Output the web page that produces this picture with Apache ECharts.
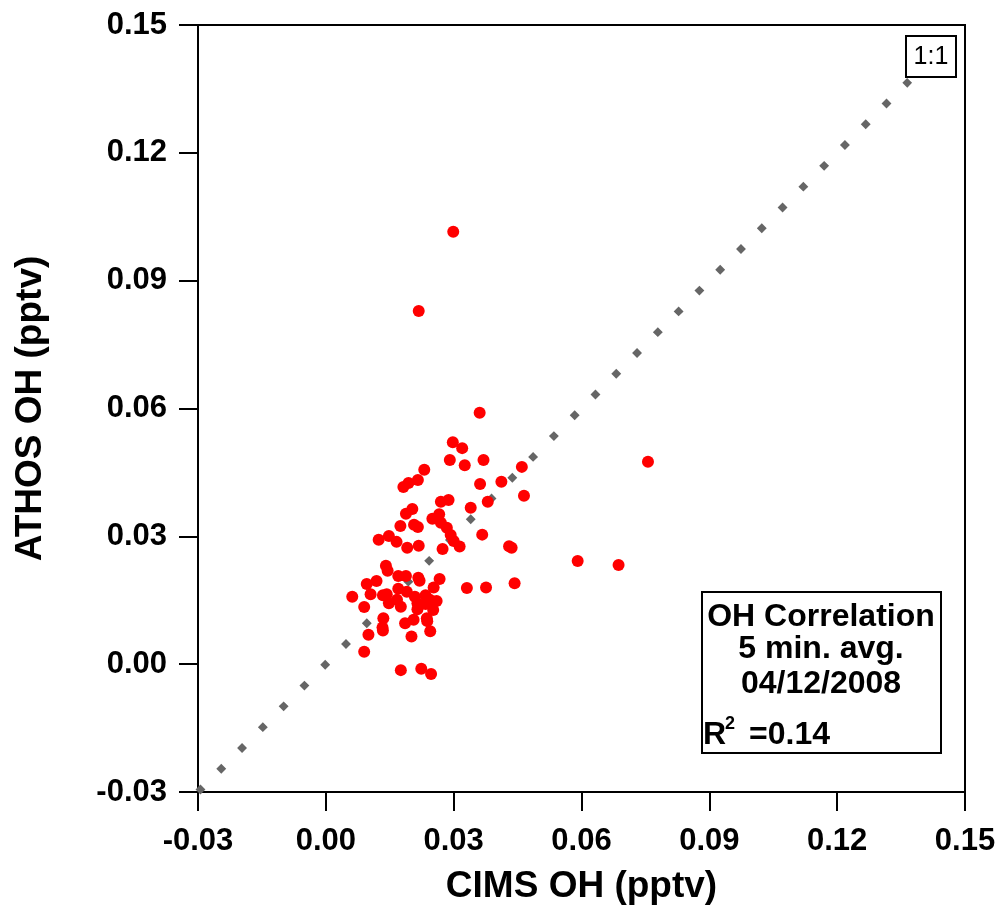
<!DOCTYPE html>
<html>
<head>
<meta charset="utf-8">
<script src="https://cdn.jsdelivr.net/npm/echarts@6/dist/echarts.min.js"></script>
<style>
  html, body { margin: 0; padding: 0; background: #fff; }
  #chart { width: 1004px; height: 913px; }
</style>
</head>
<body>
<div id="chart"></div>
<script>
// CIMS OH (x) vs ATHOS OH (y), pptv, 5 min. averages, 04/12/2008
var cimsOH = [
  0.0361, 0.0298, 0.0320, 0.0291, 0.0326, 0.0370, 0.0231, 0.0216, 0.0194, 0.0182,
  0.0362, 0.0412, 0.0460, 0.0465, 0.0380, 0.0340, 0.0270, 0.0288, 0.0203, 0.0188,
  0.0266, 0.0250, 0.0270, 0.0175, 0.0207, 0.0216, 0.0284, 0.0293, 0.0367, 0.0124,
  0.0148, 0.0166, 0.0191, 0.0218, 0.0274, 0.0300, 0.0314, 0.0430, 0.0436, 0.0141,
  0.0145, 0.0170, 0.0188, 0.0217, 0.0220, 0.0267, 0.0119, 0.0096, 0.0331, 0.0376,
  0.0443, 0.0062, 0.0105, 0.0134, 0.0143, 0.0170, 0.0190, 0.0253, 0.0090, 0.0148,
  0.0167, 0.0176, 0.0209, 0.0215, 0.0234, 0.0244, 0.0215, 0.0234, 0.0260, 0.0252,
  0.0135, 0.0133, 0.0134, 0.0186, 0.0206, 0.0237, 0.0238, 0.0201, 0.0245, 0.0100,
  0.0090, 0.0176, 0.0224, 0.0247, 0.0299, 0.0218, 0.0756, 0.0591, 0.0687
];
var athosOH = [
  0.0590, 0.0521, 0.0507, 0.0479, 0.0467, 0.0479, 0.0456, 0.0432, 0.0425, 0.0416,
  0.0423, 0.0428, 0.0463, 0.0395, 0.0381, 0.0367, 0.0381, 0.0385, 0.0364, 0.0353,
  0.0352, 0.0341, 0.0332, 0.0324, 0.0327, 0.0322, 0.0320, 0.0303, 0.0304, 0.0292,
  0.0301, 0.0287, 0.0273, 0.0278, 0.0270, 0.0289, 0.0276, 0.0277, 0.0273, 0.0231,
  0.0219, 0.0207, 0.0207, 0.0203, 0.0196, 0.0200, 0.0195, 0.0188, 0.0179, 0.0180,
  0.0190, 0.0158, 0.0164, 0.0162, 0.0164, 0.0177, 0.0170, 0.0180, 0.0134, 0.0143,
  0.0151, 0.0135, 0.0158, 0.0143, 0.0162, 0.0151, 0.0129, 0.0141, 0.0148, 0.0127,
  0.0108, 0.0086, 0.0079, 0.0096, 0.0104, 0.0108, 0.0101, 0.0065, 0.0077, 0.0069,
  0.0029, -0.0014, -0.0011, -0.0023, 0.1015, 0.0829, 0.0475, 0.0242, 0.0233
];
// 1:1 reference line
var oneToOne = [[-0.03, -0.03], [0.137, 0.137]];
var axisMin = -0.03, axisMax = 0.15, axisStep = 0.03;

var points = cimsOH.map(function (x, i) { return [x, athosOH[i]]; });

var font = '"Liberation Sans", Arial, sans-serif';
function fmt(v) { return Math.abs(v) < 1e-9 ? '0.00' : v.toFixed(2); }

var axisCommon = {
  type: 'value',
  min: axisMin,
  max: axisMax,
  interval: axisStep,
  splitLine: { show: false },
  axisLine: { show: true, onZero: false, lineStyle: { color: '#000', width: 2 } },
  axisTick: { show: true, inside: false, length: 19, lineStyle: { color: '#000', width: 2 } },
  nameLocation: 'middle',
  nameTextStyle: { fontFamily: font, fontWeight: 'bold', fontSize: 37, color: '#000' }
};

var chart = echarts.init(document.getElementById('chart'));
chart.setOption({
  animation: false,
  backgroundColor: '#fff',
  grid: {
    left: 198, right: 39, top: 25, bottom: 121,
    outerBoundsMode: 'none',
    show: true, borderColor: '#000', borderWidth: 2, backgroundColor: 'transparent'
  },
  xAxis: Object.assign({}, axisCommon, {
    name: 'CIMS OH (pptv)',
    nameGap: 76,
    axisLabel: { margin: 34, formatter: fmt, fontFamily: font, fontWeight: 'bold', fontSize: 31, color: '#000' }
  }),
  yAxis: Object.assign({}, axisCommon, {
    name: 'ATHOS OH (pptv)',
    nameGap: 149,
    nameRotate: 90,
    axisLabel: { margin: 31, formatter: fmt, fontFamily: font, fontWeight: 'bold', fontSize: 31, color: '#000' }
  }),
  series: [
    {
      type: 'line',
      data: oneToOne,
      symbol: 'none',
      silent: true,
      z: 1,
      lineStyle: { color: '#666', width: 7, type: [7, 22.4], cap: 'butt', opacity: 1 }
    },
    {
      type: 'scatter',
      data: points,
      symbol: 'circle',
      symbolSize: 12,
      z: 3,
      itemStyle: { color: '#ff0000', opacity: 1 }
    }
  ],
  graphic: [
    {
      type: 'group', z: 100,
      children: [
        { type: 'rect', shape: { x: 906, y: 36, width: 50, height: 41 },
          style: { fill: '#fff', stroke: '#000', lineWidth: 2 } },
        { type: 'text', x: 931, y: 57,
          style: { text: '1:1', font: '25px ' + font, fill: '#000', textAlign: 'center', textVerticalAlign: 'middle' } }
      ]
    },
    {
      type: 'group', z: 100,
      children: [
        { type: 'rect', shape: { x: 702, y: 592, width: 239, height: 161 },
          style: { fill: '#fff', stroke: '#000', lineWidth: 2 } },
        { type: 'text', x: 821, y: 617,
          style: { text: 'OH Correlation', font: 'bold 32px ' + font, fill: '#000', textAlign: 'center', textVerticalAlign: 'middle' } },
        { type: 'text', x: 821, y: 649,
          style: { text: '5 min. avg.', font: 'bold 32px ' + font, fill: '#000', textAlign: 'center', textVerticalAlign: 'middle' } },
        { type: 'text', x: 821, y: 684,
          style: { text: '04/12/2008', font: 'bold 32px ' + font, fill: '#000', textAlign: 'center', textVerticalAlign: 'middle' } },
        { type: 'text', x: 703, y: 735,
          style: { text: 'R', font: 'bold 32px ' + font, fill: '#000', textAlign: 'left', textVerticalAlign: 'middle' } },
        { type: 'text', x: 725, y: 724,
          style: { text: '2', font: 'bold 18px ' + font, fill: '#000', textAlign: 'left', textVerticalAlign: 'middle' } },
        { type: 'text', x: 749, y: 735,
          style: { text: '=0.14', font: 'bold 32px ' + font, fill: '#000', textAlign: 'left', textVerticalAlign: 'middle' } }
      ]
    }
  ]
});
</script>
</body>
</html>
